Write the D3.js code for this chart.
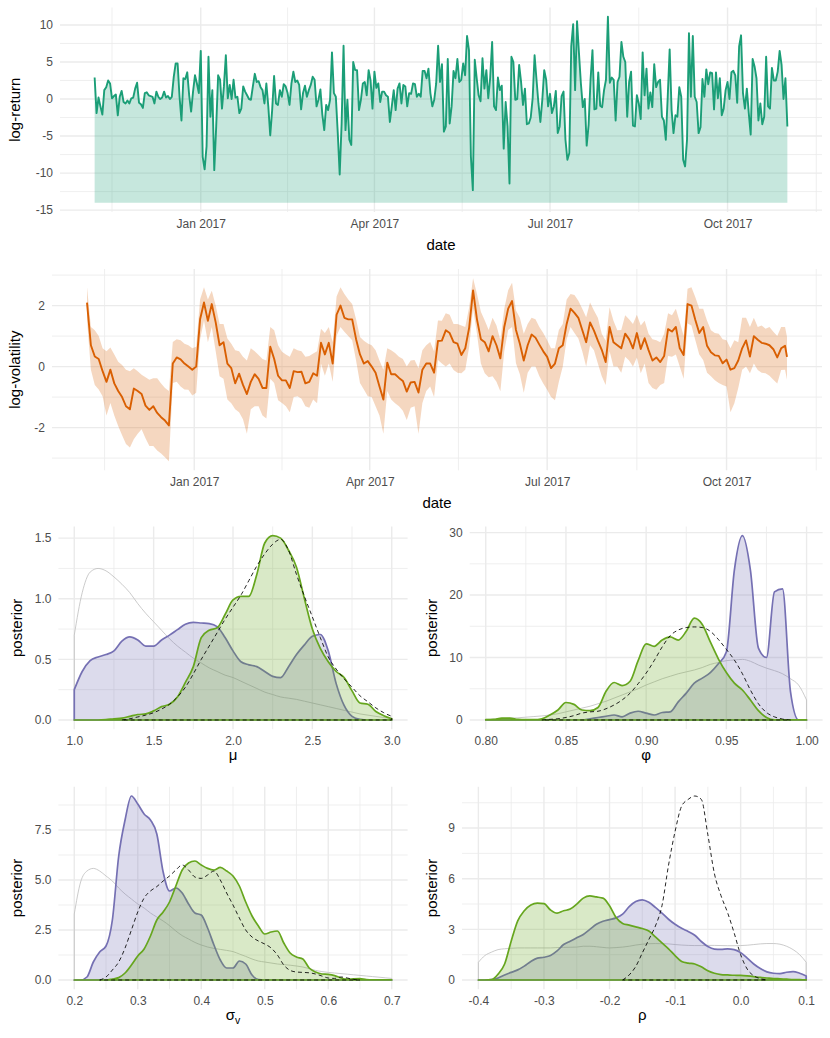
<!DOCTYPE html>
<html>
<head>
<meta charset="utf-8">
<script src="https://cdn.jsdelivr.net/npm/d3@7/dist/d3.min.js"></script>
<style>
body { margin: 0; background: #fff; }
svg { font-family: "Liberation Sans", Arial, Helvetica, sans-serif; }
</style>
</head>
<body>
<script>
// ---------- time series data ----------
var startDay = "2016-11-07";
var returnFloor = -14;

// daily log-returns (%)
var logReturn = [
  2.9, -1.9, 0.2, -1.0, -2.1, 1.2, 1.6, 2.5, 2.1, 0.1, 0.4, 0.6,
  -2.2, 0.3, 1.1, -0.4, -0.6, -0.2, -0.6, 0.1, 0.2, 1.4, 2.2, -0.5, -0.7, -1.2, 0.8, 0.9, 0.5, 0.4,
  0.3, -0.6, 1.0, 0.3, 0.0, 0.2, 1.0, 0.2, 0.4, 0.0,
  0.3, 3.0, 4.8, 4.8, 0.3, -2.9, 2.8, 2.7, 3.6, 0.5, -1.7, 1.0, 3.2, 2.1, 0.8, 6.5, -7.8, -9.5, -6.4, 5.7,
  -2.4, 1.2, -9.6, -3.7, 3.2, 2.6, -1.3, 1.7, 5.9, 0.1, 1.9, 0.0, 2.6, 0.2, 0.3, -1.9, -1.3, 1.7, 1.0, 0.5,
  0.0, -0.1, 1.7, 3.4, 2.3, 2.4, 1.6, 1.2, -0.6, 2.1, -1.0, -4.9, -1.5, 3.1, -0.6, -0.8, 1.2, 0.3, 2.0, 1.7,
  0.8, -0.8, 2.1, 3.7, 2.3, 2.5, 1.9, -1.4, 0.8, 1.8, 0.3, 1.2,
  1.9, 3.0, 2.6, -1.0, -0.1, 1.3, -2.1, -4.2, -0.8, -1.5, -0.1, 6.3, 0.8, 0.3, -4.6, -10.2, -3.3, 7.2, -4.2, -0.1,
  -5.5, -6.2, 5.0, 3.9, 3.9, -1.5, -0.1, 2.1, 2.3, 0.5, 3.9, 2.5, -1.3, 3.7, 1.5,
  2.1, -0.4, 1.0, 1.0, 0.5, 0.3, -3.1, -1.0, 1.2, -1.5, 1.4, 2.1, -0.6, 1.9, 1.7, -1.0, 0.8, 0.7, 2.1, 2.0,
  0.3, 0.7, 0.3, 3.8, 3.8, 2.8, 4.1, 0.8, -1.0,
  -0.1, 2.1, 7.2, 2.3, 4.7, -4.4, -3.7, 5.4, -3.3, -1.0,
  3.8, 2.8, 5.4, 2.3, 2.6, 4.8, 3.2, 8.5, 6.6, -7.8,
  -12.3, 5.3, 2.8, 0.5, -0.3, 5.5, 1.4, 3.9, 0.1, 2.9,
  7.7, -1.0, -1.5, 2.9, 1.2, 1.8, -6.7, -0.4, -3.7, -11.4,
  5.7, 5.0, -0.1, 0.0, 4.6, 2.3, -0.8, 1.4, -3.4, -3.3,
  -2.5, 0.1, 5.9, 2.6, -0.6, -3.1, -0.1, 3.9, 2.6, -1.0,
  0.7, -1.9, -1.0, 1.1, -4.6, -3.7, 0.4, 1.0, -5.5, -8.2,
  -7.3, 7.1, 10.1, 1.2, 10.5, 6.2, 2.1, -1.1, 0.0, -6.3,
  -3.5, 2.6, 6.6, -1.4, -1.3, 3.6, -0.9, -1.1, 1.2, 2.6,
  11.1, 2.2, 2.9, 2.6, -2.9, 2.3, 3.0, 7.7, 5.7, 5.0,
  -2.4, 2.3, 3.7, -3.6, -3.7, 0.5, -0.6, -2.7, 6.3, 0.5,
  4.1, -1.3, 0.9, -1.1, 4.7, 1.6, 2.3, 2.6, -2.4, -2.9,
  -5.5, 0.3, 6.7, -1.5, -4.6, -2.2, -2.4, 1.6, 0.3, -8.2,
  -9.1, -5.5, 8.9, 0.3, 8.5, 0.3, -0.4, -4.6, -3.8, 2.7,
  0.3, 4.0, 2.0, 3.6, 3.5, -1.4, 3.6, 0.1, 2.8, -2.2,
  -1.3, 1.2, 2.3, 0.0, 3.6, 3.8, 3.2, -0.5, 7.1, 8.6,
  0.8, -1.3, 1.4, -1.9, -4.8, 5.4, 4.4, 2.8, -2.9, -0.6,
  -3.4, -2.4, 5.7, -1.0, -1.3, 4.2, 2.5, 2.5, 3.7, 6.5,
  4.6, 0.0, 2.8, -3.7
];

// log-volatility, one value every 2 days, with its band
var volStep = 2;
var logVol = [
  2.1, 0.7, 0.33, 0.25, -0.15, -0.5, -0.1, -0.55, -0.8, -1.0,
  -1.3, -1.4, -0.72, -0.8, -0.9, -1.28, -1.42, -1.3, -1.52, -1.66,
  -1.77, -1.93, 0.1, 0.3, 0.24, 0.1, 0.0, -0.1, 0.0, 1.55,
  2.1, 1.5, 2.05, 1.45, 0.7, 0.8, 0.1, -0.05, -0.55, -0.23,
  -0.6, -0.9, -0.5, -0.25, -0.4, -0.7, -0.7, 0.65, 0.25, -0.3,
  -0.45, -0.45, -0.7, -0.15, -0.18, -0.17, -0.55, -0.5, -0.22, -0.3,
  0.78, 0.4, 0.78, 0.1, 1.7, 2.0, 1.6, 1.55, 1.55, 0.9,
  0.4, 0.1, 0.18, 0.0, -0.2, -0.65, -1.08, 0.13, -0.25, -0.25,
  -0.37, -0.47, -0.82, -0.52, -0.5, -0.85, -0.1, 0.1, 0.1, -0.2,
  0.84, 0.85, 1.19, 1.1, 0.8, 0.75, 0.38, 0.6, 1.28, 2.5,
  1.55, 0.9, 0.8, 0.5, 1.0, 0.7, 0.27, 1.3, 1.9, 2.15,
  1.2, 0.75, 0.2, 0.7, 1.05, 0.95, 0.72, 0.5, 0.32, -0.05,
  0.1, 0.6, 0.7, 1.4, 1.9, 1.76, 1.6, 1.2, 0.8, 1.45,
  1.18, 0.85, 0.55, 0.15, 1.3, 0.8, 0.7, 0.6, 1.08, 0.9,
  0.6, 1.1, 0.58, 0.93, 0.54, 0.2, 0.3, 0.15, 0.35, 1.23,
  1.15, 1.3, 0.6, 0.38, 2.05, 2.0, 1.53, 1.1, 1.3, 0.68,
  0.47, 0.37, 0.35, 0.11, 0.23, -0.1, -0.05, 0.2, 0.6, 0.86,
  0.33, 1.0, 0.88, 0.78, 0.75, 0.7, 0.57, 0.3, 0.6, 0.68, 0.32
];
var volUpper = [
  2.6, 1.3, 1.19, 1.0, 0.6, 0.5, 0.63, 0.4, 0.16, 0.05,
  -0.1, -0.15, -0.05, -0.15, -0.27, -0.35, -0.43, -0.38, -0.38, -0.55,
  -0.7, -0.8, 0.81, 0.9, 0.86, 0.75, 0.7, 0.6, 0.65, 2.2,
  2.6, 2.2, 2.49, 2.0, 1.4, 1.4, 0.92, 0.75, 0.54, 0.5,
  0.32, 0.2, 0.6, 0.5, 0.38, 0.25, 0.2, 1.3, 1.19, 0.7,
  0.49, 0.4, 0.32, 0.6, 0.54, 0.5, 0.32, 0.35, 0.43, 0.5,
  1.24, 1.1, 1.3, 0.8, 2.3, 2.6, 2.38, 2.2, 2.05, 1.55,
  0.97, 0.85, 0.76, 0.7, 0.54, 0.2, -0.1, 0.6, 0.54, 0.45,
  0.32, 0.25, 0.0, 0.2, 0.22, -0.05, 0.54, 0.7, 0.81, 0.5,
  1.51, 1.5, 1.75, 1.7, 1.4, 1.4, 1.35, 1.3, 1.95, 2.9,
  2.38, 1.8, 1.51, 1.2, 1.6, 1.35, 0.86, 1.9, 2.5, 2.75,
  1.84, 1.6, 1.08, 1.4, 1.6, 1.55, 1.3, 1.1, 0.86, 0.6,
  0.6, 1.2, 1.4, 2.2, 2.38, 2.35, 2.16, 1.9, 1.62, 2.1,
  1.84, 1.6, 1.08, 0.85, 1.95, 1.5, 1.19, 1.2, 1.68, 1.55,
  1.4, 1.7, 1.35, 1.5, 1.08, 0.9, 0.86, 0.8, 1.08, 1.75,
  1.68, 1.9, 1.46, 1.0, 2.55, 2.6, 2.27, 1.9, 1.9, 1.5,
  1.19, 1.1, 1.08, 0.9, 0.86, 0.6, 0.86, 0.8, 1.6, 1.6,
  1.3, 1.6, 1.3, 1.35, 1.24, 1.3, 1.14, 1.0, 1.3, 1.3, 0.97
];
var volLower = [
  1.55, -0.1, -0.6, -0.75, -0.97, -1.6, -1.19, -1.6, -1.95, -2.25,
  -2.54, -2.65, -2.38, -2.2, -2.05, -2.35, -2.6, -2.6, -2.75, -2.85,
  -2.97, -3.1, -0.54, -0.5, -0.65, -0.75, -0.76, -0.95, -0.86, 0.9,
  1.51, 0.8, 1.3, 0.5, -0.32, -0.4, -1.08, -1.2, -1.4, -1.5,
  -1.73, -2.2, -1.4, -1.3, -1.3, -1.6, -1.7, -0.4, -0.54, -1.1,
  -1.19, -1.3, -1.5, -1.0, -0.97, -1.05, -1.3, -1.35, -1.08, -1.2,
  0.1, -0.3, 0.1, -0.5, 1.0, 1.3, 1.14, 1.0, 0.86, 0.2,
  -0.54, -0.75, -0.97, -1.0, -1.3, -1.6, -2.2, -0.8, -1.08, -1.2,
  -1.3, -1.45, -1.75, -1.35, -1.3, -2.2, -1.19, -0.8, -0.65, -1.0,
  0.22, 0.1, 0.0, 0.1, -0.11, -0.2, -0.22, -0.1, 0.65, 1.9,
  1.08, 0.1, -0.22, -0.35, -0.32, -0.5, -0.81, 0.5, 1.2, 1.3,
  0.11, -0.25, -0.86, -0.2, 0.0, 0.0, -0.32, -0.55, -0.76, -1.0,
  -1.1, -0.5, 0.0, 0.9, 1.3, 1.1, 0.92, 0.5, 0.0, 0.7,
  0.54, 0.1, -0.32, -0.6, 0.5, 0.0, 0.0, -0.2, 0.32, 0.2,
  0.0, 0.3, -0.22, 0.1, -0.54, -0.7, -0.76, -0.6, -0.54, 0.35,
  0.32, 0.4, 0.0, -0.4, 1.41, 1.35, 0.86, 0.4, 0.22, -0.2,
  -0.32, -0.45, -0.54, -0.6, -0.65, -1.5, -1.2, -0.7, -0.1, 0.0,
  -0.22, 0.1, -0.11, -0.2, -0.22, -0.3, -0.43, -0.55, -0.11, -0.1, -0.43
];

var quarterBreaks = ["2016-10-01", "2017-01-01", "2017-04-01", "2017-07-01", "2017-10-01", "2018-01-01"];
var quarterLabels = ["Oct 2016", "Jan 2017", "Apr 2017", "Jul 2017", "Oct 2017", "Jan 2018"];
var returnTicks = [-15, -10, -5, 0, 5, 10];
var returnLabels = ["-15", "-10", "-5", "0", "5", "10"];
var volTicks = [-2, 0, 2];
var volLabels = ["-2", "0", "2"];

// ---------- posterior densities ----------
var muX = [1.00, 1.05, 1.10, 1.15, 1.20, 1.25, 1.30, 1.35, 1.40, 1.45, 1.50, 1.55, 1.60, 1.65, 1.70, 1.75, 1.80, 1.85, 1.90, 1.95,
  2.00, 2.05, 2.10, 2.15, 2.20, 2.25, 2.30, 2.35, 2.40, 2.45, 2.50, 2.55, 2.60, 2.65, 2.70, 2.75, 2.80, 2.85, 2.90, 2.95, 3.00];
var muPrior = [0.70, 1.05, 1.22, 1.25, 1.23, 1.18, 1.12, 1.05, 0.96, 0.88, 0.81, 0.74, 0.67, 0.61, 0.56, 0.51, 0.47, 0.43, 0.40, 0.37,
  0.35, 0.32, 0.29, 0.26, 0.23, 0.21, 0.19, 0.18, 0.17, 0.155, 0.14, 0.125, 0.11, 0.095, 0.08, 0.065, 0.05, 0.04, 0.03, 0.02, 0.015];
var muPurple = [0.25, 0.40, 0.49, 0.52, 0.54, 0.57, 0.65, 0.685, 0.66, 0.61, 0.61, 0.66, 0.70, 0.745, 0.79, 0.805, 0.80, 0.795, 0.77, 0.68,
  0.57, 0.48, 0.455, 0.44, 0.40, 0.36, 0.35, 0.44, 0.54, 0.62, 0.69, 0.705, 0.57, 0.30, 0.12, 0.03, 0.005, 0, 0, 0, 0];
var muGreen = [0, 0, 0, 0, 0.003, 0.01, 0.015, 0.03, 0.045, 0.05, 0.075, 0.11, 0.13, 0.19, 0.31, 0.44, 0.68, 0.74, 0.76, 0.87,
  0.99, 1.02, 1.02, 1.20, 1.46, 1.52, 1.50, 1.40, 1.26, 1.00, 0.75, 0.59, 0.48, 0.40, 0.35, 0.24, 0.14, 0.13, 0.07, 0.035, 0.01];
var muExact = [0, 0, 0, 0, 0, 0, 0, 0.01, 0.025, 0.04, 0.06, 0.09, 0.13, 0.19, 0.27, 0.38, 0.50, 0.61, 0.72, 0.83,
  0.93, 1.03, 1.15, 1.27, 1.37, 1.45, 1.49, 1.40, 1.20, 1.02, 0.85, 0.68, 0.52, 0.42, 0.34, 0.27, 0.20, 0.15, 0.10, 0.06, 0.03];

var phiX = [0.800, 0.805, 0.810, 0.815, 0.820, 0.825, 0.830, 0.835, 0.840, 0.845, 0.850, 0.855, 0.860, 0.865, 0.870, 0.875, 0.880, 0.885, 0.890, 0.895,
  0.900, 0.905, 0.910, 0.915, 0.920, 0.925, 0.930, 0.935, 0.940, 0.945, 0.950, 0.955, 0.960, 0.965, 0.970, 0.975, 0.980, 0.985, 0.990, 0.995, 1.000];
var phiPrior = [0.1, 0.15, 0.2, 0.3, 0.35, 0.45, 0.55, 0.65, 0.8, 1.0, 1.3, 1.6, 1.9, 2.2, 2.6, 3.0, 3.5, 4.0, 4.5, 5.0,
  5.6, 6.1, 6.6, 7.0, 7.4, 7.7, 8.0, 8.4, 8.9, 9.2, 9.5, 9.6, 9.7, 9.4, 8.8, 8.3, 7.9, 7.4, 6.6, 5.6, 3.2];
var phiPurple = [0, 0, 0, 0, 0, 0, 0, 0, 0, 0, 0, 0, 0, 0.2, 0.4, 0.6, 0.8, 0.5, 1.1, 1.4,
  1.1, 0.8, 1.2, 1.3, 2.9, 4.3, 5.9, 6.7, 7.6, 9.0, 10.9, 24.0, 29.5, 24.0, 11.5, 10.0, 20.5, 21.0, 4.5, 0, 0];
var phiGreen = [0.05, 0.1, 0.3, 0.3, 0.1, 0.05, 0.05, 0.2, 0.8, 1.6, 2.8, 2.5, 1.6, 1.5, 2.0, 4.6, 6.0, 5.5, 6.2, 9.5,
  12.2, 11.8, 12.8, 13.3, 12.8, 14.2, 16.3, 15.3, 12.5, 9.8, 7.6, 5.9, 4.8, 3.2, 1.5, 0.4, 0.02, 0.01, 0.01, 0.01, 0.01];
var phiExact = [0, 0, 0, 0, 0, 0, 0, 0, 0.1, 0.2, 0.4, 0.7, 1.1, 1.3, 1.4, 1.8, 2.4, 3.2, 4.3, 5.8,
  7.5, 9.5, 11.7, 13.5, 14.4, 14.8, 14.9, 14.8, 14.2, 12.9, 11.3, 9.6, 7.4, 4.8, 2.6, 1.2, 0.5, 0.15, 0, 0, 0];

var sigX = [0.20, 0.21, 0.22, 0.23, 0.24, 0.25, 0.26, 0.27, 0.28, 0.29, 0.30, 0.31, 0.32, 0.33, 0.34, 0.35, 0.36, 0.37, 0.38, 0.39,
  0.40, 0.41, 0.42, 0.43, 0.44, 0.45, 0.46, 0.47, 0.48, 0.49, 0.50, 0.51, 0.52, 0.53, 0.54, 0.55, 0.56, 0.57, 0.58, 0.59,
  0.60, 0.61, 0.62, 0.63, 0.64, 0.65, 0.66, 0.67, 0.68, 0.69, 0.70];
var sigPrior = [3.3, 4.9, 5.45, 5.58, 5.45, 5.2, 4.95, 4.6, 4.3, 4.05, 3.8, 3.6, 3.35, 3.15, 2.95, 2.72, 2.45, 2.22, 2.05, 1.88,
  1.75, 1.65, 1.58, 1.53, 1.48, 1.42, 1.3, 1.18, 1.05, 0.95, 0.9, 0.85, 0.8, 0.77, 0.74, 0.7, 0.65, 0.57, 0.48, 0.42,
  0.38, 0.35, 0.32, 0.29, 0.26, 0.23, 0.2, 0.17, 0.14, 0.11, 0.08];
var sigPurple = [0, 0, 0.15, 0.9, 1.4, 1.7, 3.0, 6.2, 8.0, 9.2, 8.8, 8.3, 8.0, 7.3, 5.4, 4.45, 4.6, 4.35, 3.8, 3.35,
  3.25, 2.6, 1.75, 1.0, 0.6, 0.6, 0.95, 0.8, 0.25, 0.02, 0, 0, 0, 0, 0, 0, 0, 0, 0, 0,
  0, 0, 0, 0, 0, 0, 0, 0, 0, 0, 0];
var sigGreen = [0, 0, 0, 0, 0, 0, 0.05, 0.12, 0.35, 0.75, 1.2, 1.55, 2.2, 3.0, 3.4, 3.9, 4.7, 5.5, 5.85, 5.95,
  5.75, 5.58, 5.5, 5.63, 5.45, 5.2, 4.7, 3.9, 3.2, 2.7, 2.3, 2.4, 2.45, 1.85, 1.35, 1.15, 1.05, 0.6, 0.4, 0.3,
  0.28, 0.22, 0.1, 0.04, 0.06, 0.07, 0.02, 0.01, 0.01, 0.01, 0.01];
var sigExact = [0, 0, 0, 0, 0, 0.15, 0.5, 0.9, 1.6, 2.5, 3.4, 4.1, 4.45, 4.67, 4.95, 5.2, 5.5, 5.75, 5.5, 5.15,
  5.08, 5.25, 5.45, 5.0, 4.35, 3.75, 3.1, 2.5, 2.15, 1.95, 1.8, 1.6, 1.25, 0.75, 0.48, 0.4, 0.38, 0.36, 0.3, 0.2,
  0.1, 0.08, 0.15, 0.1, 0.03, 0, 0, 0, 0, 0, 0];

var rhoX = [-0.40, -0.39, -0.38, -0.37, -0.36, -0.35, -0.34, -0.33, -0.32, -0.31, -0.30, -0.29, -0.28, -0.27, -0.26, -0.25, -0.24, -0.23, -0.22, -0.21,
  -0.20, -0.19, -0.18, -0.17, -0.16, -0.15, -0.14, -0.13, -0.12, -0.11, -0.10, -0.09, -0.08, -0.07, -0.06, -0.05, -0.04, -0.03, -0.02, -0.01,
  0.00, 0.01, 0.02, 0.03, 0.04, 0.05, 0.06, 0.07, 0.08, 0.09, 0.10];
var rhoPrior = [1.05, 1.45, 1.65, 1.8, 1.85, 1.88, 1.9, 1.9, 1.9, 1.9, 1.9, 1.9, 1.92, 1.93, 1.94, 1.95, 2.0, 2.0, 1.97, 1.93,
  1.9, 1.92, 1.95, 2.0, 2.07, 2.12, 2.15, 2.16, 2.15, 2.14, 2.1, 2.07, 2.05, 2.04, 2.04, 2.05, 2.05, 2.04, 2.03, 2.03,
  2.04, 2.06, 2.1, 2.14, 2.16, 2.16, 2.12, 2.0, 1.8, 1.5, 1.05];
var rhoPurple = [0, 0, 0.02, 0.12, 0.3, 0.45, 0.6, 0.82, 1.1, 1.3, 1.35, 1.45, 1.72, 2.1, 2.3, 2.5, 2.7, 3.0, 3.3, 3.48,
  3.58, 3.68, 3.9, 4.35, 4.65, 4.75, 4.6, 4.3, 3.96, 3.6, 3.3, 3.06, 2.88, 2.65, 2.28, 1.98, 1.83, 1.81, 1.84, 1.8,
  1.62, 1.3, 0.95, 0.68, 0.48, 0.4, 0.38, 0.46, 0.5, 0.4, 0.24];
var rhoGreen = [0, 0, 0.02, 0.35, 0.95, 2.3, 3.5, 4.1, 4.45, 4.55, 4.52, 4.15, 3.96, 4.1, 4.2, 4.5, 4.85, 4.98, 4.92, 4.85,
  4.4, 3.7, 3.35, 3.25, 3.15, 3.05, 2.9, 2.55, 2.2, 1.85, 1.45, 1.1, 1.0, 0.95, 0.78, 0.55, 0.4, 0.32, 0.3, 0.28,
  0.27, 0.24, 0.2, 0.15, 0.12, 0.09, 0.07, 0.05, 0.03, 0.02, 0.01];
var rhoExact = [0, 0, 0, 0, 0, 0, 0, 0, 0, 0, 0, 0, 0, 0, 0, 0, 0, 0, 0, 0,
  0, 0, 0, 0.3, 0.8, 1.6, 2.4, 3.2, 4.4, 6.8, 8.8, 10.3, 10.7, 10.9, 10.7, 8.6, 6.3, 5.0, 4.0, 2.8,
  1.5, 0.65, 0.25, 0.08, 0, 0, 0, 0, 0, 0, 0];

var muTicks = [1.0, 1.5, 2.0, 2.5, 3.0], muTickLabels = ["1.0", "1.5", "2.0", "2.5", "3.0"];
var muYTicks = [0, 0.5, 1.0, 1.5], muYLabels = ["0.0", "0.5", "1.0", "1.5"];
var phiTicks = [0.80, 0.85, 0.90, 0.95, 1.00], phiTickLabels = ["0.80", "0.85", "0.90", "0.95", "1.00"];
var phiYTicks = [0, 10, 20, 30], phiYLabels = ["0", "10", "20", "30"];
var sigTicks = [0.2, 0.3, 0.4, 0.5, 0.6, 0.7], sigTickLabels = ["0.2", "0.3", "0.4", "0.5", "0.6", "0.7"];
var sigYTicks = [0, 2.5, 5.0, 7.5], sigYLabels = ["0.0", "2.5", "5.0", "7.5"];
var rhoTicks = [-0.4, -0.3, -0.2, -0.1, 0.0, 0.1], rhoTickLabels = ["-0.4", "-0.3", "-0.2", "-0.1", "0.0", "0.1"];
var rhoYTicks = [0, 3, 6, 9], rhoYLabels = ["0", "3", "6", "9"];

// ---------- drawing ----------
var teal = "#1b9e77", orange = "#d95f02", purple = "#7570b3", green = "#66a61e";
var gridCol = "#ebebeb";

var svg = d3.select("body").append("svg").attr("width", 830).attr("height", 1038);

var parseDay = d3.timeParse("%Y-%m-%d");
var t0 = parseDay(startDay);
var retDates = logReturn.map(function(d, i) { return d3.timeDay.offset(t0, i); });
var tEnd = retDates[retDates.length - 1];
var volDates = logVol.map(function(d, i) { return d3.timeDay.offset(t0, Math.min(i * volStep, logReturn.length - 1)); });
var qDates = quarterBreaks.map(parseDay);

function midpoints(vals) {
  var out = [];
  for (var i = 1; i < vals.length; i++) out.push(vals[i - 1] + (vals[i] - vals[i - 1]) / 2);
  return out;
}
function minorsOf(ticks) {
  var step = ticks[1] - ticks[0];
  return midpoints([ticks[0] - step].concat(ticks, [ticks[ticks.length - 1] + step]));
}

function drawGrid(g, box, x, y, xMajor, xMinor, yMajor, yMinor) {
  function vlines(vals, w) {
    g.append("g").selectAll("line")
      .data(vals.filter(function(v) { var p = x(v); return p >= box.l && p <= box.r; }))
      .enter().append("line")
      .attr("x1", function(v) { return x(v); }).attr("x2", function(v) { return x(v); })
      .attr("y1", box.t).attr("y2", box.b)
      .attr("stroke", gridCol).attr("stroke-width", w);
  }
  function hlines(vals, w) {
    g.append("g").selectAll("line")
      .data(vals.filter(function(v) { var p = y(v); return p >= box.t && p <= box.b; }))
      .enter().append("line")
      .attr("y1", function(v) { return y(v); }).attr("y2", function(v) { return y(v); })
      .attr("x1", box.l).attr("x2", box.r)
      .attr("stroke", gridCol).attr("stroke-width", w);
  }
  hlines(yMinor, 0.8); vlines(xMinor, 0.8);
  hlines(yMajor, 1.4); vlines(xMajor, 1.4);
}

function styleAxis(sel) {
  sel.select(".domain").remove();
  sel.attr("font-family", null).attr("font-size", null);
  sel.selectAll("text").attr("font-size", 12).attr("fill", "#4d4d4d");
}

function drawAxes(g, box, x, y, xTicks, xLabels, yTicks, yLabels) {
  g.append("g").attr("transform", "translate(0," + box.b + ")")
    .call(d3.axisBottom(x).tickValues(xTicks).tickSize(0).tickPadding(7)
      .tickFormat(function(d, i) { return xLabels[i]; }))
    .call(styleAxis);
  g.append("g").attr("transform", "translate(" + box.l + ",0)")
    .call(d3.axisLeft(y).tickValues(yTicks).tickSize(0).tickPadding(7)
      .tickFormat(function(d, i) { return yLabels[i]; }))
    .call(styleAxis);
}

function yTitle(label, cx, cy) {
  svg.append("text")
    .attr("transform", "translate(" + cx + "," + cy + ") rotate(-90)")
    .attr("text-anchor", "middle").attr("dy", "0.35em")
    .attr("font-size", 15).attr("fill", "#000").text(label);
}

function expand(lo, hi) { var p = (hi - lo) * 0.05; return [lo - p, hi + p]; }

function timeX(box) {
  var dom = expand(+t0, +tEnd);
  return d3.scaleTime().domain([new Date(dom[0]), new Date(dom[1])]).range([box.l, box.r]);
}

function timeAxisBits(g, box, x, y, yTicks, yLabels) {
  var inRange = qDates.map(function(d, i) { return i; })
    .filter(function(i) { var p = x(qDates[i]); return p >= box.l && p <= box.r; });
  var minorT = midpoints(qDates.map(Number)).map(function(v) { return new Date(v); });
  drawGrid(g, box, x, y, inRange.map(function(i) { return qDates[i]; }), minorT, yTicks, minorsOf(yTicks));
  return inRange;
}

// panel 1: log-returns
(function() {
  var box = { l: 60, r: 822, t: 7.5, b: 212 };
  var g = svg.append("g");
  var x = timeX(box);
  var y = d3.scaleLinear().domain(expand(returnFloor, d3.max(logReturn))).range([box.b, box.t]);
  var idx = timeAxisBits(g, box, x, y, returnTicks, returnLabels);
  var area = d3.area().x(function(d, i) { return x(retDates[i]); })
    .y0(y(returnFloor)).y1(function(d) { return y(d); });
  var line = d3.line().x(function(d, i) { return x(retDates[i]); }).y(function(d) { return y(d); });
  g.append("path").attr("d", area(logReturn)).attr("fill", teal).attr("fill-opacity", 0.25);
  g.append("path").attr("d", line(logReturn)).attr("fill", "none").attr("stroke", teal)
    .attr("stroke-width", 1.9).attr("stroke-linejoin", "round");
  drawAxes(g, box, x, y, idx.map(function(i) { return qDates[i]; }), idx.map(function(i) { return quarterLabels[i]; }),
    returnTicks, returnLabels);
  yTitle("log-return", 15, (box.t + box.b) / 2);
  svg.append("text").attr("x", (box.l + box.r) / 2).attr("y", box.b + 38)
    .attr("text-anchor", "middle").attr("font-size", 15).text("date");
})();

// panel 2: log-volatility
(function() {
  var box = { l: 52, r: 822, t: 269, b: 470.3 };
  var g = svg.append("g");
  var x = timeX(box);
  var y = d3.scaleLinear().domain(expand(d3.min(volLower), d3.max(volUpper))).range([box.b, box.t]);
  var idx = timeAxisBits(g, box, x, y, volTicks, volLabels);
  var band = d3.area().x(function(d, i) { return x(volDates[i]); })
    .y0(function(d, i) { return y(volLower[i]); }).y1(function(d, i) { return y(volUpper[i]); });
  var line = d3.line().x(function(d, i) { return x(volDates[i]); }).y(function(d) { return y(d); });
  g.append("path").attr("d", band(logVol)).attr("fill", orange).attr("fill-opacity", 0.25);
  g.append("path").attr("d", line(logVol)).attr("fill", "none").attr("stroke", orange)
    .attr("stroke-width", 1.9).attr("stroke-linejoin", "round");
  drawAxes(g, box, x, y, idx.map(function(i) { return qDates[i]; }), idx.map(function(i) { return quarterLabels[i]; }),
    volTicks, volLabels);
  yTitle("log-volatility", 15, (box.t + box.b) / 2);
  svg.append("text").attr("x", (box.l + box.r) / 2).attr("y", box.b + 38)
    .attr("text-anchor", "middle").attr("font-size", 15).text("date");
})();

// density panels
function pairs(xs, ys) { return xs.map(function(v, i) { return [v, ys[i]]; }); }
function trimmed(xs, ys) {
  var p = pairs(xs, ys), a = -1, b = -1;
  ys.forEach(function(v, i) { if (v > 0) { if (a < 0) a = i; b = i; } });
  return p.slice(Math.max(a - 1, 0), Math.min(b + 2, p.length));
}

function densityPanel(box, xs, prior, post1, post2, exact, xTicks, xLabels, yTicks, yLabels, symbol, sub, titleX) {
  var g = svg.append("g");
  var x = d3.scaleLinear().domain(expand(xs[0], xs[xs.length - 1])).range([box.l, box.r]);
  var top = d3.max([prior, post1, post2, exact], function(s) { return d3.max(s); });
  var y = d3.scaleLinear().domain(expand(0, top)).range([box.b, box.t]);
  drawGrid(g, box, x, y, xTicks, minorsOf(xTicks), yTicks, minorsOf(yTicks));
  var area = d3.area().x(function(d) { return x(d[0]); }).y0(y(0)).y1(function(d) { return y(d[1]); })
    .curve(d3.curveMonotoneX);
  g.append("path").attr("d", area(pairs(xs, prior))).attr("fill", "none")
    .attr("stroke", "#bebebe").attr("stroke-width", 0.8);
  g.append("path").attr("d", area(pairs(xs, post1))).attr("fill", purple).attr("fill-opacity", 0.25)
    .attr("stroke", purple).attr("stroke-width", 1.7).attr("stroke-linejoin", "round");
  g.append("path").attr("d", area(pairs(xs, post2))).attr("fill", green).attr("fill-opacity", 0.25)
    .attr("stroke", green).attr("stroke-width", 1.7).attr("stroke-linejoin", "round");
  g.append("path").attr("d", area(trimmed(xs, exact))).attr("fill", "none")
    .attr("stroke", "#000").attr("stroke-width", 0.85).attr("stroke-dasharray", "4,3");
  drawAxes(g, box, x, y, xTicks, xLabels, yTicks, yLabels);
  yTitle("posterior", titleX, (box.t + box.b) / 2);
  var t = svg.append("text").attr("x", (box.l + box.r) / 2).attr("y", box.b + 31)
    .attr("text-anchor", "middle").attr("font-size", 15).attr("fill", "#000");
  t.append("tspan").text(symbol);
  if (sub) t.append("tspan").attr("font-size", 10.5).attr("dy", 4).text(sub);
}

densityPanel({ l: 58.4, r: 407.6, t: 526.5, b: 729.2 }, muX, muPrior, muPurple, muGreen, muExact,
  muTicks, muTickLabels, muYTicks, muYLabels, "\u03bc", null, 17);
densityPanel({ l: 469.7, r: 822.6, t: 526.5, b: 729.2 }, phiX, phiPrior, phiPurple, phiGreen, phiExact,
  phiTicks, phiTickLabels, phiYTicks, phiYLabels, "\u03c6", null, 432);
densityPanel({ l: 58.4, r: 407.6, t: 786.8, b: 989.2 }, sigX, sigPrior, sigPurple, sigGreen, sigExact,
  sigTicks, sigTickLabels, sigYTicks, sigYLabels, "\u03c3", "v", 17);
densityPanel({ l: 462, r: 822.6, t: 786.8, b: 989.2 }, rhoX, rhoPrior, rhoPurple, rhoGreen, rhoExact,
  rhoTicks, rhoTickLabels, rhoYTicks, rhoYLabels, "\u03c1", null, 432);
</script>
</body>
</html>
